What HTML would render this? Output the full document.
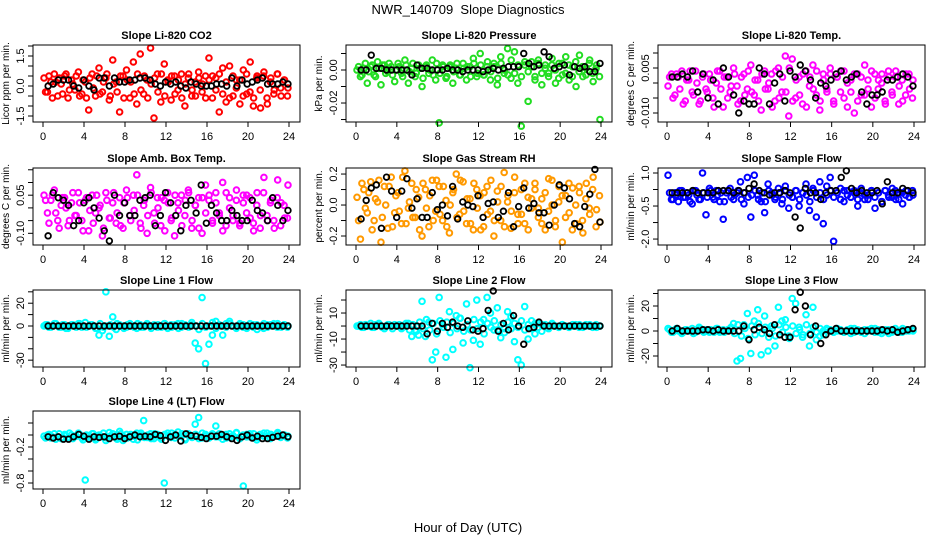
<!DOCTYPE html>
<html><head><meta charset="utf-8"><style>
html,body{margin:0;padding:0;background:#fff;}
svg{display:block;font-family:"Liberation Sans","DejaVu Sans",sans-serif;}
</style></head><body>
<svg id="chart" width="936" height="540" viewBox="0 0 936 540" xmlns="http://www.w3.org/2000/svg">
<rect width="936" height="540" fill="#fff"/>
<text x="468" y="14" font-size="13" text-anchor="middle">NWR_140709&#160; Slope Diagnostics</text>
<text x="468" y="532" font-size="13" text-anchor="middle">Hour of Day (UTC)</text>
</svg>
<script>
const hourTicks = [0,4,8,12,16,20,24];
const co2Vals = [0.4,-0.3,0.2,0.6,-0.5,0.1,0.5,-0.6,0.3,-0.2,0.7,-0.4,0.2,-1.2,0.6,-0.5,0.9,-0.3,0.4,-0.7,1.3,0.2,-1.3,0.5,0.8,-0.6,1.2,-0.9,1.6,-0.4,0.3,1.9,-1.6,0.6,-0.8,1.1,0.3,-0.7,0.5,-0.2,0.6,-1.0,0.4,-0.5,0.2,0.7,-0.3,0.5,1.4,-0.6,0.4,-1.3,0.9,-0.8,1.0,-0.5,0.3,-0.9,0.8,-0.4,1.2,-0.6,0.5,-1.1,0.7,-0.9,0.4,-0.2,0.6,-0.5,0.3,-0.1];
const co2ValsB = [-0.3,0.5,-0.6,0.2,0.4,-0.4,0.6,-0.2,0.1,0.5,-0.5,0.3,-0.6,0.4,-0.1,0.5,-0.4,0.2,0.6,-0.5,0.1,-0.3,0.5,-0.6,0.3,0.2,-0.4,0.6,-0.2,0.5,-0.6,0.1,0.4,-0.3,0.6,-0.5,0.2,0.5,-0.4,0.3,-0.6,0.1,0.6,-0.2,-0.5,0.4,0.1,-0.6,0.3,0.5,-0.2,0.6,-0.4,0.2,-0.6,0.5,-0.1,0.3,-0.5,0.6,-0.3,-1.0,0.4,-0.2,0.5,-0.6,0.2,-0.4,0.6,-0.1,0.3,-0.5];
const co2Black = [0.0,0.1,0.3,0.3,0.3,0.0,-0.1,0.3,0.0,-0.2,0.4,0.4,0.0,0.4,0.2,0.2,0.3,0.3,0.4,0.4,0.3,0.1,0.0,0.2,0.1,0.2,0.0,-0.1,0.2,0.1,0.0,0.0,0.0,0.1,0.1,0.0,0.4,0.0,0.3,0.1,0.2,0.3,0.4,0.1,0.1,0.1,0.2,0.1];
const presVals = [0.000,-0.004,0.001,-0.008,0.002,-0.003,0.005,-0.009,0.003,-0.001,0.002,-0.007,0.004,-0.002,0.006,-0.008,0.001,-0.004,0.003,-0.010,0.002,-0.002,0.006,-0.006,-0.032,0.003,-0.005,0.002,-0.008,0.001,-0.003,0.004,-0.006,0.002,0.007,-0.004,0.010,-0.003,0.002,-0.006,0.004,-0.009,0.008,-0.002,0.013,-0.005,0.011,-0.008,-0.034,0.003,-0.019,0.005,-0.004,0.006,-0.009,0.003,-0.002,0.007,-0.008,0.004,-0.003,0.008,-0.006,0.002,-0.010,0.009,-0.004,0.001,0.006,-0.007,0.003,-0.030];
const presValsB = [0.002,-0.003,0.004,-0.001,0.003,-0.004,0.001,0.003,-0.002,0.004,-0.003,0.000,0.002,-0.004,0.003,-0.001,0.004,-0.002,0.001,-0.005,0.003,0.000,-0.003,0.004,-0.002,0.002,-0.004,0.003,-0.001,0.004,-0.003,0.001,0.002,-0.004,0.004,-0.002,0.003,-0.003,0.005,-0.001,0.002,-0.005,0.004,0.000,-0.003,0.006,-0.002,0.003,-0.004,0.005,-0.001,0.002,-0.006,0.004,-0.002,0.001,-0.004,0.003,0.000,-0.005,0.004,-0.002,0.003,-0.004,0.005,-0.001,0.002,-0.003,0.004,-0.002,0.001,-0.004];
const presBlack = [0,0,0.009,0.001,0.001,0,0,0,0,0,-0.003,0.003,0.001,0.001,0,0,0,0.001,0,0,-0.001,0,0,0,-0.001,0,0.001,0,0.001,0.002,0.002,0.002,0.010,0.004,0.002,0.003,0.011,0.008,0.001,0.002,0.003,-0.003,0.002,0.001,0.002,-0.001,-0.001,0.004];
const tempVals = [-0.001,0.003,-0.004,0.002,0.004,-0.006,0.001,-0.003,0.004,-0.007,0.002,-0.002,0.003,-0.005,0.000,0.004,-0.008,0.002,-0.003,0.005,-0.001,-0.006,0.003,-0.002,0.006,-0.004,0.001,-0.009,0.004,-0.002,0.003,-0.006,0.005,-0.003,0.009,-0.011,0.008,-0.005,0.002,-0.007,0.004,-0.001,0.006,-0.004,-0.009,0.003,-0.002,0.005,-0.006,0.002,-0.003,0.004,-0.008,0.001,-0.010,0.003,-0.004,0.006,-0.002,0.004,-0.005,0.001,0.003,-0.007,0.002,-0.004,0.004,-0.001,-0.006,0.003,-0.002,0.001];
const tempValsB = [0.002,-0.005,0.003,-0.002,-0.007,0.001,0.004,-0.004,0.000,-0.006,0.003,-0.003,0.001,-0.008,0.004,-0.002,0.002,-0.005,-0.001,0.003,-0.007,0.002,-0.004,0.004,-0.003,0.001,-0.006,0.003,-0.002,0.000,-0.008,0.004,-0.005,0.002,-0.003,0.005,-0.006,0.001,-0.004,0.003,-0.008,0.002,-0.002,0.004,-0.006,0.001,-0.003,0.003,-0.007,0.002,0.004,-0.005,0.000,-0.003,0.003,-0.006,0.002,-0.004,0.001,-0.008,0.003,-0.002,0.000,-0.006,0.004,-0.003,0.002,-0.007,0.001,-0.004,0.003,-0.005];
const tempBlack = [0.002,0.002,0.003,0.002,0.004,-0.003,0.003,-0.005,0.001,-0.007,0.005,0.002,-0.004,-0.010,-0.006,-0.007,-0.007,0.005,0.003,-0.007,0.000,0.003,-0.006,0.004,0.002,0.006,0.004,0.001,-0.005,0.000,-0.001,0.001,0.003,0.004,0.001,0.002,0.003,-0.003,-0.007,-0.004,-0.004,-0.003,0.001,0.001,0.002,0.003,0.002,-0.001];
const ambVals = [0.05,-0.02,0.03,0.07,-0.05,0.01,0.04,-0.07,0.02,-0.03,0.06,-0.05,0.03,-0.09,0.05,-0.02,0.00,-0.11,0.06,-0.04,0.02,-0.06,0.04,-0.08,0.07,-0.03,0.05,0.13,-0.06,0.01,-0.10,0.08,-0.02,0.04,-0.07,0.03,0.06,-0.05,-0.11,0.02,0.05,-0.03,0.07,-0.08,0.01,0.04,-0.10,0.09,0.03,-0.05,0.06,-0.02,0.10,-0.07,0.04,-0.03,0.07,-0.06,0.02,0.05,-0.04,-0.09,0.06,-0.03,0.12,-0.05,0.03,-0.08,0.11,0.02,-0.04,0.09];
const ambValsB = [0.03,-0.06,0.05,-0.02,-0.08,0.04,0.00,-0.05,0.06,-0.03,0.02,-0.09,0.04,-0.01,-0.06,0.05,0.01,-0.08,0.03,-0.04,0.06,-0.02,-0.07,0.02,0.04,-0.05,-0.01,0.05,-0.08,0.03,-0.03,0.06,-0.06,0.00,0.04,-0.09,0.02,-0.04,0.05,-0.01,-0.07,0.03,0.06,-0.05,0.01,-0.08,0.04,-0.02,0.05,-0.06,0.02,-0.03,-0.09,0.06,0.00,-0.05,0.03,-0.07,0.05,-0.02,0.04,-0.06,0.01,-0.08,0.06,-0.03,0.02,-0.05,0.04,-0.07,0.01,-0.04];
const ambBlack = [-0.11,0.06,0.04,0.03,0.01,-0.07,-0.05,0.02,0.04,0.00,-0.04,-0.09,-0.13,0.05,-0.03,0.02,-0.03,-0.03,0.03,0.04,0.05,-0.07,-0.03,0.06,0.02,-0.03,-0.09,0.01,0.03,-0.02,0.09,-0.06,0.01,-0.02,-0.05,-0.05,-0.01,-0.03,-0.05,-0.05,0.03,-0.01,-0.02,-0.05,0.04,0.01,-0.05,-0.01];
const rhVals = [0.05,-0.22,0.10,-0.05,0.15,-0.10,0.02,-0.24,0.12,-0.15,0.18,-0.05,0.08,-0.12,0.22,-0.02,0.14,-0.08,0.05,-0.20,0.10,-0.14,0.16,-0.04,0.12,-0.10,0.03,-0.18,0.08,0.20,-0.06,0.15,-0.12,0.04,-0.16,0.10,0.06,-0.14,0.12,-0.04,-0.20,0.09,-0.10,0.21,0.02,-0.15,0.08,-0.06,0.10,-0.12,0.05,-0.02,0.14,-0.08,0.04,-0.16,0.17,0.00,-0.10,0.12,-0.24,0.06,-0.05,0.11,-0.12,0.08,-0.18,0.14,-0.06,0.18,-0.03,-0.11];
const rhValsB = [-0.10,0.14,-0.02,0.08,-0.16,0.04,0.16,-0.08,0.00,0.12,-0.14,0.06,-0.04,0.18,-0.12,0.02,-0.08,0.10,-0.16,0.14,-0.02,0.06,-0.10,0.16,-0.06,0.12,-0.14,0.00,0.10,-0.08,0.16,-0.04,0.04,-0.12,0.14,-0.02,-0.16,0.08,-0.06,0.16,-0.10,0.02,0.12,-0.14,0.06,-0.04,0.18,-0.12,-0.06,0.14,-0.16,0.04,0.10,-0.02,-0.12,0.08,-0.04,0.16,-0.14,0.02,0.06,-0.08,0.14,-0.16,0.00,0.12,-0.10,0.04,-0.02,0.10,-0.14,0.06];
const rhBlack = [-0.09,0.03,0.11,0.13,-0.15,0.18,0.09,-0.08,0.09,0.17,-0.02,0.04,-0.08,-0.08,0.08,-0.03,0.00,-0.07,0.12,-0.09,0.02,0.00,-0.01,0.06,-0.08,0.01,0.02,-0.08,-0.04,0.08,-0.14,-0.01,0.11,-0.02,0.01,-0.05,-0.05,-0.13,0.00,0.13,0.11,0.04,-0.12,-0.14,-0.01,0.07,0.23,-0.11];
const flowVals = [0.9,-0.2,0.1,-0.3,0.2,-0.1,0.0,-0.4,0.2,-0.2,1.0,-0.9,0.3,-0.1,0.2,-0.3,-1.1,0.1,0.3,-0.2,0.1,0.6,-0.4,0.8,-1.0,0.9,0.0,-0.3,-0.8,0.5,0.1,-0.2,0.3,-0.4,0.4,-0.6,-0.1,0.2,-0.5,0.1,0.5,-0.7,0.3,-1.0,0.6,-1.3,0.4,0.8,-2.1,0.1,0.3,-0.3,0.2,-0.1,0.1,-0.5,0.3,-0.2,0.0,0.2,-0.6,0.1,-0.3,0.2,-0.1,0.3,-0.2,0.1,-0.4,0.2,-0.1,0.0];
const flowValsB = [0.1,-0.2,0.0,0.2,-0.1,0.1,-0.3,0.2,0.0,-0.2,0.1,-0.1,0.2,-0.2,0.0,0.1,-0.3,0.2,-0.1,0.0,0.2,-0.2,0.1,-0.1,0.0,0.2,-0.2,0.1,-0.3,0.2,0.0,-0.1,0.1,-0.2,0.2,0.0,-0.1,0.2,-0.2,0.1,0.0,-0.3,0.2,-0.1,0.1,-0.2,0.0,0.2,-0.1,0.1,-0.2,0.2,0.0,-0.1,0.2,-0.2,0.1,0.0,-0.2,0.2,-0.1,0.1,-0.3,0.2,0.0,-0.1,0.2,-0.2,0.1,0.0,-0.1,0.2];
const flowBlack = [0.1,0.1,0.1,0.1,0.2,0.1,0.1,0.1,0.1,0.2,0.2,0.2,0.1,0.2,0.1,0.3,0.5,0.2,0.1,0.0,0.1,0.1,0.2,0.1,-1.0,-1.5,0.3,0.1,0.1,-0.2,0.1,0.2,0.2,0.8,1.1,0.3,0.1,0.2,0.1,0.1,0.2,-0.4,0.6,0.1,0.1,0.3,0.2,0.1];
const line1Vals = [0,1,-1,2,0,-1,1,-2,1,0,2,-1,3,0,1,-2,-8,-4,30,-9,8,-3,1,0,-1,2,0,-2,1,-1,2,0,1,-1,0,2,-2,1,0,2,-1,1,0,3,-15,-20,25,-33,-16,-8,4,0,-8,2,4,0,-1,2,1,-2,0,1,-3,0,2,-1,1,0,2,-1,1,0];
const line1ValsB = [1,-1,0,2,-1,1,-2,0,1,-1,2,0,-1,1,0,-2,2,-1,0,1,-1,2,0,-2,1,0,-1,2,-1,0,1,-2,0,1,-1,2,0,-1,1,-2,2,0,-1,1,0,-3,2,-1,0,3,-2,1,0,-1,2,0,-2,1,-1,0,2,-1,1,0,-2,1,0,2,-1,0,1,-1];
const line1Black = [0,0,0,0,0,0,0,0,0,0,0,0,0,0,0,0,0,0,0,0,0,0,0,0,0,0,0,0,0,0,0,0,0,0,0,0,0,0,0,0,0,0,0,0,0,0,0,0];
const line2Vals = [0,1,-1,0,2,-1,1,0,-2,1,0,1,0,-2,1,2,-8,-3,-7,19,-8,3,-26,-20,22,1,-24,11,-18,8,6,-13,17,-32,-11,20,-14,5,22,10,-3,14,-9,-2,11,7,-12,-26,-30,15,-10,4,-6,2,-4,1,-2,2,0,-1,1,0,-1,1,0,1,-1,0,1,0,-1,0];
const line2ValsB = [0,-1,1,0,-1,1,2,-1,0,1,-2,0,1,-1,2,-3,1,-4,3,-2,5,-3,2,-6,4,-1,3,-5,2,-2,6,-4,1,-3,5,-2,3,-6,2,-1,4,-3,1,-5,3,-2,2,-1,4,-3,1,-2,2,-1,1,0,-1,1,0,-1,1,0,-1,0,1,-1,0,1,0,-1,1,0];
const line2Black = [0,0,0,0,0,0,0,0,0,0,0,0,0,-6,2,-4,2,-1,3,0,-1,4,-3,-4,-2,12,27,-4,2,-3,8,0,-14,-2,-1,3,0,0,0,0,0,0,0,0,0,0,0,0];
const line3Vals = [2,-1,1,0,-2,1,0,2,-1,3,0,1,-1,0,2,-1,1,0,2,6,-24,-22,5,14,-18,8,17,-19,12,-16,4,-12,19,8,9,-4,26,22,3,-5,13,-12,19,-7,-4,0,2,1,-1,0,1,-1,0,2,-1,1,0,-2,1,0,2,-1,0,1,-2,1,0,-1,2,0,1,0];
const line3ValsB = [1,-1,2,0,-1,1,0,-2,1,2,-1,0,1,-1,2,0,-1,1,3,-2,5,-4,2,-6,4,-3,6,-2,3,-5,2,-4,5,-1,3,-6,4,-2,1,-3,5,-2,3,-1,2,-3,1,0,-1,2,0,-1,1,-2,2,0,-1,1,0,2,-1,1,-2,0,1,-1,2,0,-1,1,0,1];
const line3Black = [0,2,0,0,0,0,1,1,0,1,0,0,0,0,4,-7,1,3,1,-2,5,-3,-5,-5,17,31,20,-3,4,-10,-3,0,2,0,0,0,0,0,0,0,0,1,0,1,-1,0,1,2];
const line4Vals = [-0.02,0.00,-0.05,0.02,-0.03,-0.06,0.01,-0.04,0.00,-0.02,0.03,-0.05,-0.75,-0.01,0.02,-0.08,0.00,-0.03,-0.09,0.04,0.02,-0.05,0.06,-0.09,0.01,-0.02,-0.07,0.03,0.00,0.24,-0.04,0.02,-0.06,0.01,-0.05,-0.80,0.03,-0.04,0.00,0.05,-0.02,-0.06,0.02,-0.03,0.18,0.29,-0.05,0.01,-0.04,0.02,0.15,-0.03,0.00,-0.05,0.02,-0.02,0.04,-0.06,-0.85,0.01,-0.03,0.02,-0.04,0.00,0.03,-0.05,0.01,-0.02,0.04,-0.03,0.00,-0.02];
const line4ValsB = [-0.05,0.01,-0.03,-0.07,0.02,-0.04,-0.01,0.03,-0.06,-0.02,0.01,-0.08,0.00,-0.04,0.02,-0.06,-0.01,0.03,-0.05,-0.02,0.01,-0.07,0.02,-0.03,-0.05,0.01,-0.02,-0.08,0.03,-0.04,0.00,-0.06,0.02,-0.03,-0.07,0.01,-0.02,0.03,-0.05,-0.01,0.02,-0.08,0.00,-0.04,0.01,-0.06,0.03,-0.02,-0.05,0.00,-0.03,0.02,-0.07,0.01,-0.04,-0.01,0.03,-0.06,0.00,-0.03,0.02,-0.05,-0.08,0.01,-0.02,0.03,-0.06,-0.01,0.02,-0.04,0.00,-0.05];
const line4Black = [-0.03,-0.05,-0.03,-0.07,-0.07,-0.03,0.01,-0.02,-0.07,-0.03,-0.04,-0.03,-0.06,-0.03,-0.02,-0.06,-0.03,0.00,-0.03,-0.02,-0.03,0.01,-0.01,-0.09,-0.03,0.00,-0.10,0.02,-0.01,-0.02,-0.04,-0.06,-0.02,-0.02,0.01,-0.03,-0.06,-0.09,-0.03,0.00,-0.05,-0.02,-0.06,-0.06,-0.04,-0.02,0.00,-0.03];

const cols = [{bl:33,br:300,x0:43,x24:289},{bl:346,br:612,x0:356,x24:601},{bl:658,br:925,x0:667,x24:914}];
const rows = [{t:45,b:122},{t:168,b:245},{t:290,b:367},{t:411,b:489}];
const panels = [
 {name:'co2',title:'Slope Li-820 CO2',yl:'Licor ppm per min.',c:0,r:0,col:'#ff0000',vals:co2Vals,valsB:co2ValsB,blk:co2Black,dom:[2.05,-1.8],ticks:[2,1.5,1,0.5,0,-0.5,-1,-1.5],labels:{'1.5':'1.5','0':'0.0','-1.5':'-1.5'}},
 {name:'pressure',title:'Slope Li-820 Pressure',yl:'kPa per min.',c:1,r:0,col:'#22dd22',vals:presVals,valsB:presValsB,blk:presBlack,dom:[0.01515,-0.0315],ticks:[0.01,0,-0.01,-0.02,-0.03],labels:{'0':'0.00','-0.02':'-0.02'}},
 {name:'temp',title:'Slope Li-820 Temp.',yl:'degrees C per min.',c:2,r:0,col:'#ff00ff',vals:tempVals,valsB:tempValsB,blk:tempBlack,dom:[0.01267,-0.013],ticks:[0.01,0.005,0,-0.005,-0.01],labels:{'0.005':'0.005','-0.01':'-0.010'}},
 {name:'amb-temp',title:'Slope Amb. Box Temp.',yl:'degrees C per min.',c:0,r:1,col:'#ff00ff',vals:ambVals,valsB:ambValsB,blk:ambBlack,dom:[0.157,-0.146],ticks:[0.15,0.1,0.05,0,-0.05,-0.1],labels:{'0.05':'0.05','-0.1':'-0.10'}},
 {name:'gas-rh',title:'Slope Gas Stream RH',yl:'percent per min.',c:1,r:1,col:'#ff9900',vals:rhVals,valsB:rhValsB,blk:rhBlack,dom:[0.239,-0.258],ticks:[0.2,0.1,0,-0.1,-0.2],labels:{'0.2':'0.2','0':'0.0','-0.2':'-0.2'}},
 {name:'sample-flow',title:'Slope Sample Flow',yl:'ml/min per min.',c:2,r:1,col:'#0000ff',vals:flowVals,valsB:flowValsB,blk:flowBlack,dom:[1.227,-2.27],ticks:[1,0.25,-0.5,-1.25,-2],labels:{'1':'1.0','-0.5':'-0.5','-2':'-2.0'}},
 {name:'line1-flow',title:'Slope Line 1 Flow',yl:'ml/min per min.',c:0,r:2,col:'#00ffff',vals:line1Vals,valsB:line1ValsB,blk:line1Black,dom:[31.6,-36],ticks:[30,20,10,0,-10,-20,-30],labels:{'20':'20','0':'0','-30':'-30'}},
 {name:'line2-flow',title:'Slope Line 2 Flow',yl:'ml/min per min.',c:1,r:2,col:'#00ffff',vals:line2Vals,valsB:line2ValsB,blk:line2Black,dom:[27.7,-31.5],ticks:[20,10,0,-10,-20,-30],labels:{'10':'10','-10':'-10','-30':'-30'}},
 {name:'line3-flow',title:'Slope Line 3 Flow',yl:'ml/min per min.',c:2,r:2,col:'#00ffff',vals:line3Vals,valsB:line3ValsB,blk:line3Black,dom:[32.8,-28.8],ticks:[30,20,10,0,-10,-20],labels:{'20':'20','0':'0','-20':'-20'}},
 {name:'line4-flow',title:'Slope Line 4 (LT) Flow',yl:'ml/min per min.',c:0,r:3,col:'#00ffff',vals:line4Vals,valsB:line4ValsB,blk:line4Black,dom:[0.4,-0.9],ticks:[0.2,0,-0.2,-0.4,-0.6,-0.8],labels:{'-0.2':'-0.2','-0.8':'-0.8'}}
];
const NS='http://www.w3.org/2000/svg';
const svg=document.getElementById('chart');
function mk(tag,attrs,parent){const e=document.createElementNS(NS,tag);for(const k in attrs)e.setAttribute(k,attrs[k]);parent.appendChild(e);return e;}
panels.forEach(p=>{
  const C=cols[p.c],R=rows[p.r];
  const xs=h=>C.x0+(C.x24-C.x0)*h/24;
  const ys=v=>R.t+(p.dom[0]-v)/(p.dom[0]-p.dom[1])*(R.b-R.t);
  const g=mk('g',{},svg);
  
  
  const t=mk('text',{x:(C.bl+C.br)/2,y:R.t-6,'font-size':11,'font-weight':'bold','text-anchor':'middle'},g);
  t.textContent=p.title;
  
  
  const yt=mk('text',{x:0,y:0,'font-size':10,'text-anchor':'middle',transform:`translate(${C.bl-24},${(R.t+R.b)/2}) rotate(-90)`},g);
  yt.textContent=p.yl;
  
  
  const n=p.vals.length;
  p.vals.forEach((v,i)=>{
    const c=mk('circle',{cx:xs(0.1+i*23.8/(n-1)),cy:ys(v),r:2.8,fill:'none',stroke:p.col,'stroke-width':2},g);
    
    
  });
  const nb=p.valsB.length;
  p.valsB.forEach((v,i)=>{
    const c=mk('circle',{cx:xs(0.25+i*23.6/(nb-1)),cy:ys(v),r:2.8,fill:'none',stroke:p.col,'stroke-width':2},g);
    
    
  });
  const m=p.blk.length;
  p.blk.forEach((v,i)=>{
    const c=mk('circle',{cx:xs(0.5+i*23.4/(m-1)),cy:ys(v),r:2.8,fill:'none',stroke:'#000','stroke-width':1.8},g);
    
    
  });
  const box=mk('rect',{x:C.bl,y:R.t,width:C.br-C.bl,height:R.b-R.t,fill:'none',stroke:'#000','stroke-width':1},g);
  
  
  hourTicks.forEach(h=>{
    mk('line',{x1:xs(h),x2:xs(h),y1:R.b,y2:R.b+5,stroke:'#000'},g);
    const l=mk('text',{x:xs(h),y:R.b+18,'font-size':11,'text-anchor':'middle'},g);
    l.textContent=h;
    
    
  });
  p.ticks.forEach(v=>{
    mk('line',{x1:C.bl-5,x2:C.bl,y1:ys(v),y2:ys(v),stroke:'#000'},g);
    const key=String(v);
    if(p.labels[key]!==undefined){
      const l=mk('text',{x:0,y:0,'font-size':11,'text-anchor':'middle',transform:`translate(${C.bl-9},${ys(v)}) rotate(-90)`},g);
      l.textContent=p.labels[key];
      
      
    }
  });
});
</script>
</body></html>
